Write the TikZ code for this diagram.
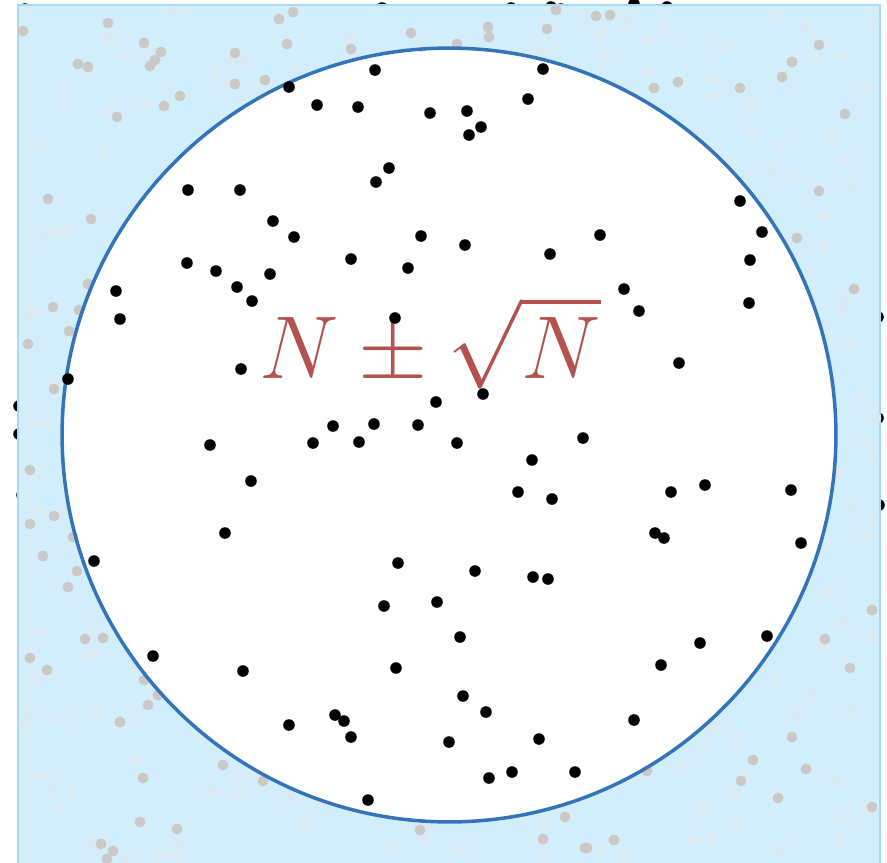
\documentclass[tikz,border=0pt]{standalone}
\definecolor{skyfill}{HTML}{D3EEFB}
\definecolor{skyedge}{HTML}{A9DAF4}
\definecolor{ringblue}{HTML}{3474BA}
\definecolor{labelred}{HTML}{B5524E}
\definecolor{missgrey}{HTML}{CBC8C6}
\definecolor{faintgrey}{HTML}{DBEAF1}
\tikzset{
  hit/.style={fill=black},
  miss/.style={fill=missgrey},
  faint/.style={fill=faintgrey},
}
\begin{document}
\begin{tikzpicture}[x=0.02cm,y=-0.02cm]
\useasboundingbox (0,0) rectangle (887,863);
% hits cut by the frame
\foreach \px/\py in {25/9,382/8,511/8,551/7,561/9,634/4,667/7,
  19/406,19/434,22/495,878/317,878/418,879/505}
  \fill[hit] (\px,\py) circle[radius=3.3pt];
% region outside the circle
\fill[skyfill,even odd rule] (18,5) rectangle (880,863) (449,435) circle[radius=7.74cm];
\draw[skyedge,line width=0.6pt] (18,863) -- (18,5) -- (880,5) -- (880,863);
% faint misses
\foreach \px/\py in {106/37,111/42,123/58,146/104,110/110,105/155,233/61,244/62,227/85,
  172/12,217/75,295/70,63/96,41/145,44/237,57/230,67/230,88/285,350/36,541/51,598/34,
  422/47,601/34,626/20,664/27,669/33,648/42,604/55,648/74,709/79,714/95,724/47,750/102,
  775/15,806/28,815/62,842/55,874/19,832/135,753/130,781/146,771/172,794/176,852/189,
  823/216,824/243,845/160,867/89,28/317,35/311,32/421,45/423,38/510,65/510,844/300,
  842/309,850/345,863/398,876/418,867/442,873/461,839/473,852/507,873/517,868/537,
  42/634,95/626,87/655,97/653,40/680,24/725,28/715,96/712,131/718,62/720,135/762,
  42/777,53/789,73/789,58/810,93/843,124/859,160/855,178/844,176/854,238/774,239/796,
  212/790,290/798,305/821,432/825,391/847,424/840,544/823,543/849,460/847,827/592,
  844/622,872/638,821/646,777/683,811/691,852/709,797/716,737/737,711/728,704/750,
  744/775,681/766,836/782,864/811,843/818,735/796,702/811,737/823,712/837,693/840,
  780/850,840/845,600/850,624/855}
  \fill[faint] (\px,\py) circle[radius=3.1pt];
% misses
\foreach \px/\py in {23/31,108/23,144/43,161/52,155/60,150/66,78/64,88/67,180/96,164/106,
  117/117,235/53,235/84,265/80,279/19,293/12,287/44,48/199,91/219,411/33,351/49,488/27,
  489/37,457/44,547/29,556/10,596/16,610/15,654/88,678/82,740/88,819/45,792/62,782/77,
  845/114,819/191,797/238,854/289,53/307,79/310,88/284,69/331,28/344,54/389,30/470,
  30/524,54/516,43/556,77/571,73/537,68/587,85/639,103/638,30/658,47/670,144/680,
  158/695,148/705,120/722,143/778,140/822,177/829,101/844,113/851,107/859,223/765,
  263/781,420/830,543/839,565/817,585/848,872/610,825/639,850/668,792/737,753/760,
  806/769,741/781,778/798,647/771,872/807,614/840,587/848}
  \fill[miss] (\px,\py) circle[radius=3.1pt];
% circle
\draw[ringblue,line width=2pt] (449,435) circle[radius=7.74cm];
\node[text=labelred,inner sep=0pt,anchor=base west]
  (count) at (259,378) {\scalebox{2.04}{\fontsize{24.88}{30}\selectfont$N \pm \sqrt{N}$}};
% hits
\foreach \px/\py in {289/87,375/70,543/69,317/105,358/107,430/113,467/111,481/127,469/135,
  528/99,389/168,376/182,188/190,240/190,273/221,294/237,421/236,465/245,351/259,
  408/268,550/254,600/235,740/201,762/232,750/260,187/263,216/271,270/274,237/287,
  252/301,116/291,120/319,395/318,624/289,639/311,749/303,679/363,241/369,68/379,
  483/394,436/402,333/426,374/424,418/425,313/443,359/442,457/443,583/438,532/460,
  210/445,251/481,518/492,552/499,671/492,705/485,791/490,225/533,655/533,664/538,
  801/543,94/561,398/563,475/571,533/577,548/579,384/606,437/602,460/637,153/656,
  243/671,396/668,700/643,767/636,661/665,463/696,486/712,335/715,344/721,351/737,
  289/725,449/742,539/739,634/720,489/778,512/772,575/772,368/800}
  \fill[hit] (\px,\py) circle[radius=3.3pt];
\end{tikzpicture}
\end{document}
